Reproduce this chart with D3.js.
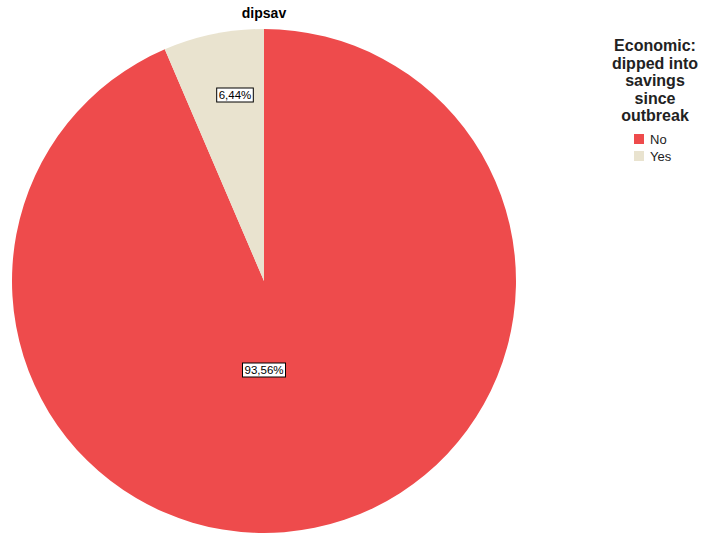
<!DOCTYPE html>
<html><head><meta charset="utf-8">
<script src="https://cdn.jsdelivr.net/npm/d3@7"></script>
<style>body{margin:0;background:#fff;}svg{display:block;font-family:Arial,"Liberation Sans",sans-serif;}</style>
</head><body>
<svg id="c" width="705" height="534"></svg>
<script>
const categories = ["No", "Yes"];
const values = [93.56, 6.44];
const labels = ["93,56%", "6,44%"];
const colors = ["#EE4B4C", "#E9E3CF"];
const legendTitle = ["Economic:", "dipped into", "savings", "since", "outbreak"];
const chartTitle = "dipsav";

const svg = d3.select("#c");
const cx = 264, cy = 281, r = 252;
const data = categories.map((c,i)=>({cat:c, v:values[i], lab:labels[i], col:colors[i]}));
const pie = d3.pie().value(d=>d.v).sort(null);
const arcs = pie(data);
const arc = d3.arc().innerRadius(0).outerRadius(r);
const g = svg.append("g").attr("transform",`translate(${cx},${cy})`);
g.selectAll("path").data(arcs).join("path").attr("d",arc).attr("fill",d=>d.data.col);

svg.append("text").attr("x",cx).attr("y",18).attr("text-anchor","middle")
  .attr("font-weight","bold").attr("font-size",14).text(chartTitle);

const labPos = [[0, 89], [-29, -186]];
arcs.forEach((a,i)=>{
  const [lx,ly] = labPos[i];
  const t = g.append("text").attr("x",lx).attr("y",ly+4).attr("text-anchor","middle")
    .attr("font-size",11.5).attr("fill","#000").text(a.data.lab);
  const bb = t.node().getBBox();
  g.insert("rect","text:last-of-type").attr("x",bb.x-2).attr("y",bb.y-1)
    .attr("width",bb.width+4).attr("height",bb.height+2)
    .attr("fill","#fff").attr("stroke","#000").attr("stroke-width",1);
  t.raise();
});

const lg = svg.append("g");
legendTitle.forEach((s,i)=>{
  lg.append("text").attr("x",655).attr("y",51+i*17.5).attr("text-anchor","middle")
    .attr("font-weight","bold").attr("font-size",16).attr("fill","#222").text(s);
});
categories.forEach((c,i)=>{
  lg.append("rect").attr("x",634).attr("y",134+i*17).attr("width",10).attr("height",10).attr("fill",colors[i]);
  lg.append("text").attr("x",650).attr("y",144+i*17).attr("font-size",13).attr("fill","#222").text(c);
});
</script>
</body></html>
